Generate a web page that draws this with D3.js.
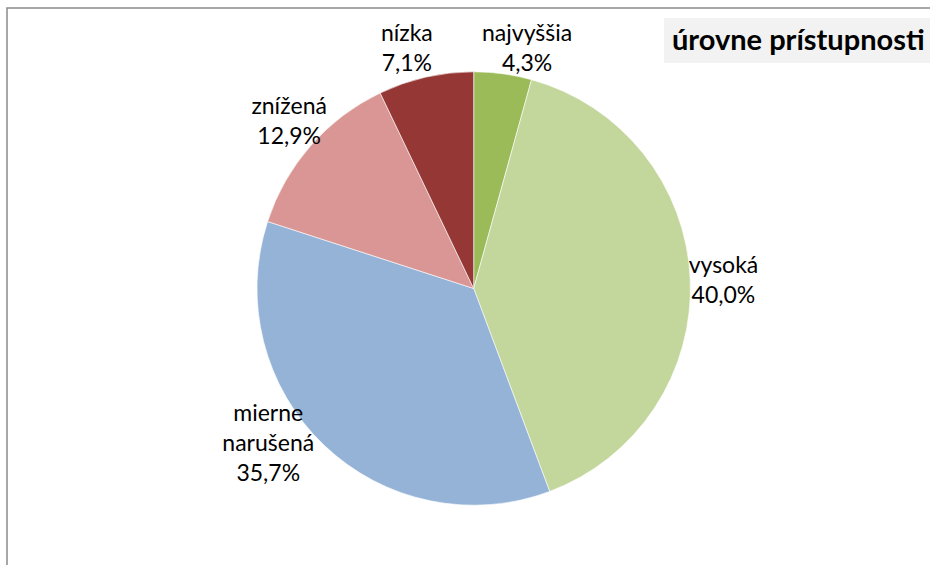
<!DOCTYPE html>
<html>
<head>
<meta charset="utf-8">
<script src="https://cdn.jsdelivr.net/npm/d3@7"></script>
<style>
  html, body { margin: 0; padding: 0; background: #fff; }
  svg { display: block; }
  text { font-family: Lato, "Open Sans", sans-serif; fill: #000; }
</style>
</head>
<body>
<div id="chart"></div>
<script>
// Slice data, clockwise from 12 o'clock
const categories = ['najvyššia', 'vysoká', 'mierne narušená', 'znížená', 'nízka'];
const labelLines = [['najvyššia'], ['vysoká'], ['mierne', 'narušená'], ['znížená'], ['nízka']];
const values = [4.3, 40.0, 35.7, 12.9, 7.1];
const colors = ['#9bbb59', '#c3d69b', '#95b3d7', '#d99694', '#953735'];
const title = 'úrovne prístupnosti';

(function() {
  'use strict';

  const width = 930;
  const height = 565;
  const cx = 473.7, cy = 288.5, radius = 216.7;
  const labelRadius = 248;
  const lineHeight = 30;

  // small per-label nudges (Excel "best fit" placement)
  const labelNudge = [[20, 5], [2, 2], [-34, -25], [2, -4], [-12, 1]];

  const svg = d3.select('#chart').append('svg')
    .attr('width', width)
    .attr('height', height);

  // chart frame
  svg.append('rect')
    .attr('x', 7).attr('y', 8)
    .attr('width', width + 20).attr('height', height + 20)
    .attr('fill', '#fff')
    .attr('stroke', '#8a8a8a')
    .attr('stroke-width', 1.5);

  const pie = d3.pie().value(d => d).sort(null);
  const arc = d3.arc().innerRadius(0).outerRadius(radius);
  const labelArc = d3.arc().innerRadius(labelRadius).outerRadius(labelRadius);
  const arcs = pie(values);

  const g = svg.append('g').attr('transform', `translate(${cx},${cy})`);

  g.selectAll('path.slice')
    .data(arcs)
    .enter().append('path')
    .attr('class', 'slice')
    .attr('d', arc)
    .attr('fill', (d, i) => colors[i])
    .attr('stroke', '#fff')
    .attr('stroke-width', 0.6);

  // data labels
  const labels = g.selectAll('text.label')
    .data(arcs)
    .enter().append('text')
    .attr('class', 'label')
    .attr('text-anchor', 'middle')
    .style('font-size', '23px')
    .attr('transform', (d, i) => {
      const c = labelArc.centroid(d);
      return `translate(${c[0] + labelNudge[i][0]},${c[1] + labelNudge[i][1]})`;
    });

  labels.each(function(d, i) {
    const lines = labelLines[i].concat([values[i].toFixed(1).replace('.', ',') + '%']);
    const top = -(lines.length - 1) * lineHeight / 2 + 8;
    d3.select(this).selectAll('tspan')
      .data(lines)
      .enter().append('tspan')
      .attr('x', 0)
      .attr('y', (l, j) => top + j * lineHeight)
      .text(l => l);
  });

  // title box
  svg.append('rect')
    .attr('x', 664).attr('y', 18)
    .attr('width', 280).attr('height', 45)
    .attr('fill', '#f2f2f2');

  svg.append('text')
    .attr('x', 672).attr('y', 50)
    .style('font-size', '29px')
    .style('font-weight', 'bold')
    .text(title);
})();
</script>
</body>
</html>
